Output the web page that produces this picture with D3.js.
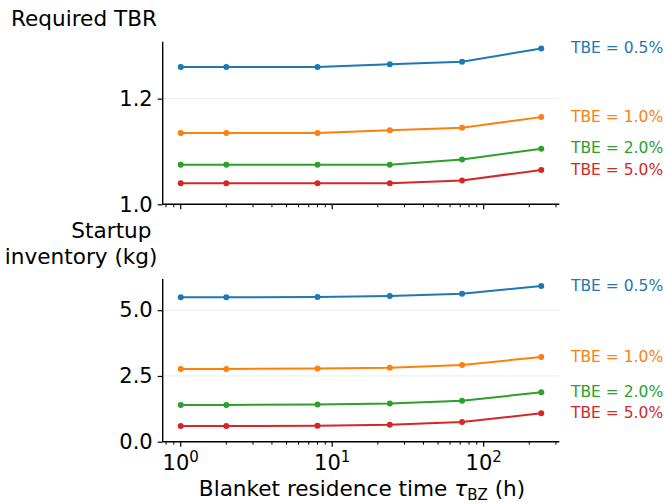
<!DOCTYPE html>
<html>
<head>
<meta charset="utf-8">
<script src="https://cdn.jsdelivr.net/npm/d3@7"></script>
<style>
  html, body { margin: 0; padding: 0; background: #fff; }
  svg { display: block; font-family: "DejaVu Sans", sans-serif; }
</style>
</head>
<body>
<svg id="chart" width="664" height="504"></svg>
<script>
// Blanket residence time (h)
const residenceTime = [1, 2, 8, 24, 72, 240];

// Tritium burn efficiency cases
const tbeLabels = ["TBE = 0.5%", "TBE = 1.0%", "TBE = 2.0%", "TBE = 5.0%"];
const colors = ["#1f77b4", "#ff7f0e", "#2ca02c", "#d62728"];

// Required tritium breeding ratio per TBE case
const tbr05 = [1.26, 1.26, 1.26, 1.265, 1.27, 1.295];
const tbr10 = [1.135, 1.135, 1.135, 1.14, 1.145, 1.165];
const tbr20 = [1.075, 1.075, 1.075, 1.075, 1.085, 1.105];
const tbr50 = [1.04, 1.04, 1.04, 1.04, 1.045, 1.065];

// Startup inventory (kg) per TBE case
const inv05 = [5.49, 5.49, 5.505, 5.54, 5.63, 5.92];
const inv10 = [2.765, 2.765, 2.78, 2.815, 2.917, 3.22];
const inv20 = [1.40, 1.40, 1.414, 1.452, 1.553, 1.88];
const inv50 = [0.593, 0.593, 0.606, 0.644, 0.745, 1.086];

// Tick values
const tbrTicks = [1.0, 1.2];
const invTicks = [0.0, 2.5, 5.0];
const xMajorTicks = [1, 10, 100];

const svg = d3.select("#chart");
const left = 162.7, right = 559.3;
const labelSize = 21.6;

// log-x domain with 5% padding in log space
const lx = residenceTime.map(Math.log10);
const lpad = 0.05 * (d3.max(lx) - d3.min(lx));
const x = d3.scaleLog()
  .domain([Math.pow(10, d3.min(lx) - lpad), Math.pow(10, d3.max(lx) + lpad)])
  .range([left, right]);

function minorTicks(domain) {
  const out = [];
  for (let e = -1; e <= 3; e++) {
    for (let m = 2; m <= 9; m++) {
      const v = m * Math.pow(10, e);
      if (v >= domain[0] && v <= domain[1]) out.push(v);
    }
  }
  return out;
}

function panel(cfg) {
  const all = cfg.series.flat();
  const mn = d3.min(all), mx = d3.max(all);
  const top = mx + 0.05 * (mx - mn);
  const y = d3.scaleLinear().domain([cfg.bottom, top]).range([cfg.y1, cfg.y0]);
  const g = svg.append("g");

  // light horizontal grid at tick values
  g.selectAll(".grid").data(cfg.ticks.filter(t => t !== cfg.bottom)).enter()
    .append("line")
    .attr("x1", left).attr("x2", right)
    .attr("y1", d => y(d)).attr("y2", d => y(d))
    .attr("stroke", "#ececec").attr("stroke-width", 1);

  // series
  const line = d3.line().x((d, i) => x(residenceTime[i])).y(d => y(d));
  cfg.series.forEach((vals, s) => {
    g.append("path").datum(vals)
      .attr("d", line)
      .attr("fill", "none")
      .attr("stroke", colors[s])
      .attr("stroke-width", 2);
    g.selectAll(null).data(vals).enter().append("circle")
      .attr("cx", (d, i) => x(residenceTime[i]))
      .attr("cy", d => y(d))
      .attr("r", 3)
      .attr("fill", colors[s]);
    g.append("text")
      .attr("x", 571)
      .attr("y", y(vals[vals.length - 1]) - 1)
      .attr("dy", "0.36em")
      .attr("fill", colors[s])
      .attr("font-size", 15.5)
      .text(tbeLabels[s]);
  });

  // y axis
  const ya = d3.axisLeft(y).tickValues(cfg.ticks).tickFormat(d3.format(".1f"))
    .tickSize(5).tickPadding(5);
  const yg = g.append("g").attr("transform", `translate(${left},0)`).call(ya);
  yg.select(".domain").attr("d", `M0,${cfg.y0}V${cfg.y1}`).attr("stroke-width", 1.4);
  yg.selectAll(".tick line").attr("stroke-width", 1.2);
  yg.selectAll(".tick text").attr("font-size", 21).attr("fill", "#000")
    .attr("font-family", "DejaVu Sans");

  // x axis: major + minor ticks
  const xg = g.append("g").attr("transform", `translate(0,${cfg.y1})`);
  xg.append("line").attr("x1", left).attr("x2", right)
    .attr("stroke", "#000").attr("stroke-width", 1.4);
  xg.selectAll(".minor").data(minorTicks(x.domain())).enter().append("line")
    .attr("x1", d => x(d)).attr("x2", d => x(d))
    .attr("y1", 0).attr("y2", 3).attr("stroke", "#000").attr("stroke-width", 1);
  xg.selectAll(".major").data(xMajorTicks).enter().append("line")
    .attr("x1", d => x(d)).attr("x2", d => x(d))
    .attr("y1", 0).attr("y2", 5).attr("stroke", "#000").attr("stroke-width", 1.2);
  if (cfg.showXLabels) {
    const t = xg.selectAll(".xl").data(xMajorTicks).enter().append("text")
      .attr("x", d => x(d)).attr("y", 28)
      .attr("text-anchor", "middle").attr("font-size", 21).attr("fill", "#000");
    t.append("tspan").text("10");
    t.append("tspan").attr("font-size", 15).attr("dy", -8)
      .text(d => String(Math.round(Math.log10(d))));
  }
  return y;
}

panel({ series: [tbr05, tbr10, tbr20, tbr50], bottom: 1.0, ticks: tbrTicks,
        y0: 41.7, y1: 204.3, showXLabels: false });
panel({ series: [inv05, inv10, inv20, inv50], bottom: 0.0, ticks: invTicks,
        y0: 279, y1: 441.7, showXLabels: true });

// axis titles
svg.append("text").attr("x", 11).attr("y", 25.5).attr("font-size", labelSize).text("Required TBR");
svg.append("text").attr("x", 151.5).attr("y", 237.5).attr("text-anchor", "end")
  .attr("font-size", labelSize).text("Startup");
svg.append("text").attr("x", 157.5).attr("y", 263.5).attr("text-anchor", "end")
  .attr("font-size", labelSize).text("inventory (kg)");

const xl = svg.append("text").attr("x", (left + right) / 2 + 1).attr("y", 496)
  .attr("text-anchor", "middle").attr("font-size", labelSize);
xl.append("tspan").text("Blanket residence time ");
xl.append("tspan").attr("font-style", "italic").text("τ");
xl.append("tspan").attr("font-size", 15).attr("dy", 4).text("BZ");
xl.append("tspan").attr("dy", -4).text(" (h)");
</script>
</body>
</html>
